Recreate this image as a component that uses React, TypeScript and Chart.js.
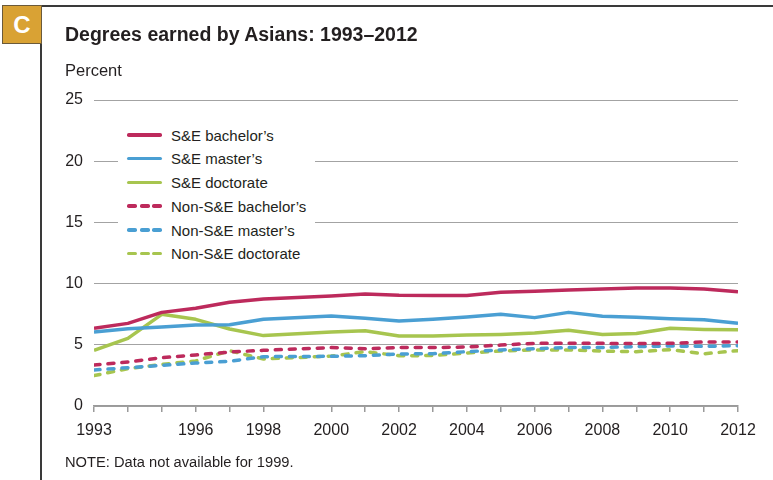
import React, { useEffect, useRef } from 'react';
import { Chart, registerables } from 'chart.js';

Chart.register(...registerables);

const YEARS = [1993, 1994, 1995, 1996, 1997, 1998, 2000, 2001, 2002, 2003, 2004, 2005, 2006, 2007, 2008, 2009, 2010, 2011, 2012];
const LABELED_YEARS = [1993, 1996, 1998, 2000, 2002, 2004, 2006, 2008, 2010, 2012];
const Y_TICKS = [0, 5, 10, 15, 20, 25];

const SE_BACHELORS = [6.35, 6.75, 7.65, 7.98, 8.47, 8.74, 8.99, 9.15, 9.04, 9.02, 9.02, 9.29, 9.37, 9.48, 9.56, 9.64, 9.64, 9.56, 9.34];
const SE_MASTERS = [6.05, 6.32, 6.45, 6.62, 6.64, 7.08, 7.35, 7.16, 6.94, 7.08, 7.27, 7.49, 7.22, 7.65, 7.33, 7.25, 7.13, 7.05, 6.75];
const SE_DOCTORATE = [4.55, 5.53, 7.49, 7.08, 6.29, 5.75, 6.05, 6.15, 5.72, 5.72, 5.8, 5.85, 5.96, 6.18, 5.85, 5.93, 6.35, 6.26, 6.23];
const NON_SE_BACHELORS = [3.35, 3.6, 3.95, 4.17, 4.41, 4.55, 4.77, 4.68, 4.77, 4.77, 4.82, 4.98, 5.12, 5.12, 5.12, 5.1, 5.12, 5.23, 5.23];
const NON_SE_MASTERS = [2.94, 3.13, 3.32, 3.51, 3.65, 4.03, 4.06, 4.11, 4.25, 4.27, 4.44, 4.58, 4.68, 4.77, 4.78, 4.85, 4.9, 4.87, 4.93];
const NON_SE_DOCTORATE = [2.48, 3.05, 3.4, 3.68, 4.52, 3.84, 4.08, 4.44, 4.11, 4.12, 4.33, 4.49, 4.58, 4.58, 4.49, 4.44, 4.6, 4.27, 4.52];

const CRIMSON = '#bd2a5c';
const BLUE = '#4a9fd3';
const GREEN = '#a7c54f';

const SERIES = [
  { label: 'S&E bachelor\u2019s', data: SE_BACHELORS, color: CRIMSON, dashed: false },
  { label: 'S&E master\u2019s', data: SE_MASTERS, color: BLUE, dashed: false },
  { label: 'S&E doctorate', data: SE_DOCTORATE, color: GREEN, dashed: false },
  { label: 'Non-S&E bachelor\u2019s', data: NON_SE_BACHELORS, color: CRIMSON, dashed: true },
  { label: 'Non-S&E master\u2019s', data: NON_SE_MASTERS, color: BLUE, dashed: true },
  { label: 'Non-S&E doctorate', data: NON_SE_DOCTORATE, color: GREEN, dashed: true },
];

const FONT = "'Liberation Sans', Arial, sans-serif";

export default function App() {
  const canvasRef = useRef<HTMLCanvasElement | null>(null);

  useEffect(() => {
    const canvas = canvasRef.current;
    if (!canvas) return;
    const chart = new Chart(canvas, {
      type: 'line',
      data: {
        datasets: SERIES.map((s) => ({
          label: s.label,
          data: s.data.map((v, i) => ({ x: YEARS[i], y: v })),
          borderColor: s.color,
          backgroundColor: s.color,
          borderWidth: 3.5,
          borderDash: s.dashed ? [6, 8] : [],
          borderCapStyle: s.dashed ? 'round' : 'butt',
          borderJoinStyle: 'round',
          pointRadius: 0,
          tension: 0,
          fill: false,
        })),
      },
      options: {
        responsive: false,
        animation: false,
        devicePixelRatio: 1,
        layout: { padding: { top: 100, right: 35, bottom: 24, left: 0 } },
        plugins: { legend: { display: false }, tooltip: { enabled: false }, title: { display: false } },
        scales: {
          x: {
            type: 'linear',
            min: 1993,
            max: 2012,
            afterBuildTicks: (scale: any) => {
              scale.ticks = YEARS.map((v) => ({ value: v }));
            },
            afterFit: (scale: any) => {
              scale.height = 50;
            },
            grid: {
              display: true,
              drawOnChartArea: false,
              drawTicks: true,
              tickLength: 6,
              color: '#9a9a9a',
              lineWidth: 1.5,
            },
            border: { display: true, color: '#9a9a9a', width: 1.5 },
            ticks: {
              autoSkip: false,
              maxRotation: 0,
              padding: 9,
              color: '#231f20',
              font: { family: FONT, size: 16 },
              callback: (value: any) => (LABELED_YEARS.includes(Number(value)) ? String(value) : ''),
            },
          },
          y: {
            min: 0,
            max: 25,
            afterBuildTicks: (scale: any) => {
              scale.ticks = Y_TICKS.map((v) => ({ value: v }));
            },
            afterFit: (scale: any) => {
              scale.width = 94;
            },
            grid: { color: '#a3a3a3', lineWidth: 1, drawTicks: false },
            border: { display: false },
            ticks: {
              padding: 11,
              color: '#231f20',
              font: { family: FONT, size: 16 },
              callback: (value: any) => String(value),
            },
          },
        },
      },
    } as any);
    return () => chart.destroy();
  }, []);

  const legendTop = 135;
  const legendStep = 23.7;

  return (
    <div style={{ position: 'absolute', left: 0, top: 0, width: 773, height: 480, background: '#fff', overflow: 'hidden', fontFamily: FONT }}>
      <canvas ref={canvasRef} width={773} height={480} style={{ position: 'absolute', left: 0, top: 0, width: 773, height: 480, display: 'block' }} />
      {/* frame */}
      <div style={{ position: 'absolute', left: 40, top: 5, width: 733, height: 2, background: '#3a3a3a' }} />
      <div style={{ position: 'absolute', left: 40, top: 5, width: 1.5, height: 475, background: '#3a3a3a' }} />
      {/* badge */}
      <div
        style={{
          position: 'absolute',
          left: 2,
          top: 5,
          width: 38,
          height: 37,
          background: '#d9a234',
          border: '1px solid #6b5a3a',
          color: '#fff',
          fontWeight: 'bold',
          fontSize: 24,
          lineHeight: '37px',
          textAlign: 'center',
        }}
      >
        C
      </div>
      {/* title */}
      <div style={{ position: 'absolute', left: 65, top: 24.5, fontSize: 19.5, lineHeight: 1, fontWeight: 'bold', color: '#231f20', whiteSpace: 'nowrap' }}>
        Degrees earned by Asians: 1993–2012
      </div>
      <div style={{ position: 'absolute', left: 65, top: 62, fontSize: 16.5, lineHeight: 1, color: '#231f20', whiteSpace: 'nowrap' }}>
        Percent
      </div>
      {/* legend */}
      <div style={{ position: 'absolute', left: 118, top: 122, width: 197, height: 145, background: '#fff' }} />
      {SERIES.map((s, i) => {
        const cy = legendTop + legendStep * i;
        return (
          <React.Fragment key={s.label}>
            {s.dashed ? (
              [0, 1, 2].map((k) => (
                <div
                  key={k}
                  style={{ position: 'absolute', left: 127 + k * 12.5, top: cy - 1.75, width: 10, height: 3.5, borderRadius: 1.75, background: s.color }}
                />
              ))
            ) : (
              <div style={{ position: 'absolute', left: 127, top: cy - 1.75, width: 35, height: 3.5, borderRadius: 1.75, background: s.color }} />
            )}
            <div style={{ position: 'absolute', left: 171, top: cy - 7.3, fontSize: 15, lineHeight: 1, color: '#231f20', whiteSpace: 'nowrap' }}>
              {s.label}
            </div>
          </React.Fragment>
        );
      })}
      {/* note */}
      <div style={{ position: 'absolute', left: 65, top: 455, fontSize: 14.7, lineHeight: 1, color: '#231f20', whiteSpace: 'nowrap' }}>
        NOTE: Data not available for 1999.
      </div>
    </div>
  );
}
